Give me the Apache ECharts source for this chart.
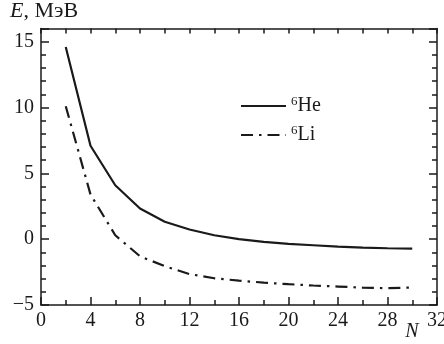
<!DOCTYPE html>
<html><head><meta charset="utf-8">
<script src="https://cdn.jsdelivr.net/npm/echarts@6/dist/echarts.min.js"></script>
<style>html,body{margin:0;padding:0;background:#fff}#c{width:444px;height:344px}</style>
</head><body><div id="c"></div>
<script>
const N = [2,4,6,8,10,12,14,16,18,20,22,24,26,28,30];
const He6 = [14.6,7.1,4.1,2.33,1.32,0.74,0.30,0.0,-0.2,-0.36,-0.46,-0.56,-0.64,-0.69,-0.71];
const Li6 = [10.1,3.4,0.3,-1.3,-2.05,-2.65,-2.97,-3.15,-3.3,-3.42,-3.52,-3.6,-3.68,-3.72,-3.67];
const seriesNames = ['He', 'Li'];
const yMajor = [-5,0,5,10,15];

const FONT = 'Liberation Serif, DejaVu Serif, serif';
const C = '#1a1a1a';
const line = {show:true, onZero:false, lineStyle:{color:C, width:1.5}};
const ax = (extra) => Object.assign({type:'value', min:-5, max:16, splitLine:{show:false}, axisLine:line}, extra);
const xa = (extra) => Object.assign({type:'value', min:0, max:32, splitLine:{show:false}, axisLine:line}, extra);
const noLine = {show:false, onZero:false};

const chart = echarts.init(document.getElementById('c'));
chart.setOption({
  animation:false,
  textStyle:{fontFamily:FONT},
  grid:{left:41, right:7, top:28.6, bottom:39, containLabel:false, outerBoundsMode:'none'},
  legend:{
    orient:'vertical', left:235, top:90, itemWidth:45, itemHeight:14, itemGap:8,
    data: seriesNames.map(n=>({name:n})),
    itemStyle:{opacity:0},
    formatter: n => '{s|6}{b|' + n + '}',
    textStyle:{fontFamily:FONT, rich:{
      s:{fontFamily:FONT, fontSize:13, color:C, padding:[0,0,9,0]},
      b:{fontFamily:FONT, fontSize:20, color:C}
    }}
  },
  xAxis:[
    xa({position:'bottom', interval:4,
      axisTick:{inside:true, length:8, lineStyle:{color:C, width:1.5}},
      minorTick:{show:true, splitNumber:2, length:5, lineStyle:{color:C, width:1.5}},
      axisLabel:{fontFamily:FONT, fontSize:20, color:C, margin:6},
      name:'N', nameLocation:'end', nameGap:-25,
      nameTextStyle:{fontFamily:FONT, fontStyle:'italic', fontSize:20, color:C, align:'center', verticalAlign:'top', padding:[17,0,0,0]}
    }),
    xa({position:'top', interval:2,
      axisTick:{inside:true, length:5, lineStyle:{color:C, width:1.5}},
      axisLabel:{show:false}})
  ],
  yAxis:[
    ax({position:'left', interval:1,
      axisTick:{inside:true, length:5, lineStyle:{color:C, width:1.5}},
      axisLabel:{fontFamily:FONT, fontSize:20, color:C, margin:7,
        formatter: v => yMajor.includes(v) ? String(v).replace('-', '\u2212') : ''},
      name:'{i|E}, МэВ', nameLocation:'end', nameGap:6,
      nameTextStyle:{fontFamily:FONT, fontSize:22, color:C, align:'center', padding:[0,0,0,6],
        rich:{i:{fontFamily:FONT, fontStyle:'italic', fontSize:22, color:C}}}
    }),
    ax({position:'left', interval:5, axisLine:noLine,
      axisTick:{inside:true, length:8, lineStyle:{color:C, width:1.5}}, axisLabel:{show:false}}),
    ax({position:'right', interval:1,
      axisTick:{inside:true, length:5, lineStyle:{color:C, width:1.5}}, axisLabel:{show:false}}),
    ax({position:'right', interval:5, axisLine:noLine,
      axisTick:{inside:true, length:8, lineStyle:{color:C, width:1.5}}, axisLabel:{show:false}})
  ],
  series:[
    {name:'He', type:'line', symbol:'none', xAxisIndex:0, yAxisIndex:0,
      data:N.map((n,i)=>[n,He6[i]]), lineStyle:{color:C, width:2.2}, itemStyle:{color:C}},
    {name:'Li', type:'line', symbol:'none', xAxisIndex:0, yAxisIndex:0,
      data:N.map((n,i)=>[n,Li6[i]]), lineStyle:{color:C, width:2.2, type:[12,6,2.5,6]}, itemStyle:{color:C}}
  ]
});
</script></body></html>
